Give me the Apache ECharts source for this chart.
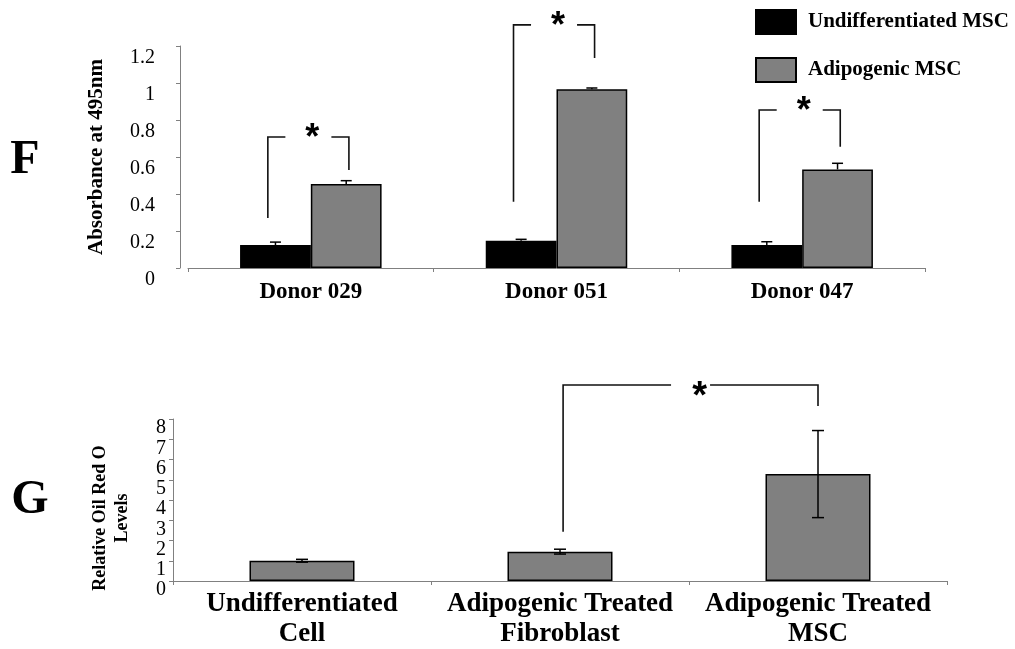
<!DOCTYPE html>
<html>
<head>
<meta charset="utf-8">
<script src="https://cdn.jsdelivr.net/npm/echarts@6/dist/echarts.min.js"></script>
<style>
  html, body { margin: 0; padding: 0; background: #fff; }
  #chart { width: 1015px; height: 649px; }
</style>
</head>
<body>
<div id="chart"></div>
<script>
// Panel F: absorbance per donor
const donors = ['Donor 029', 'Donor 051', 'Donor 047'];
const undiffMSC = [0.124, 0.147, 0.125];
const undiffErr = [0.016, 0.008, 0.017];
const adipoMSC = [0.454, 0.966, 0.533];
const adipoErr = [0.018, 0.007, 0.033];
// [fromCategory, toCategory, bracketTop, leftFoot, rightFoot]
const bracketsF = [
  [0, 0, 0.708, 0.27, 0.53],
  [1, 1, 1.314, 0.358, 1.135],
  [2, 2, 0.854, 0.358, 0.656]
];
const yTicksF = { min: 0, max: 1.2, interval: 0.2 };

// Panel G: relative Oil Red O levels
const groupsG = ['Undifferentiated\nCell', 'Adipogenic Treated\nFibroblast', 'Adipogenic Treated\nMSC'];
const oilRedO = [1.0, 1.45, 5.28];
const oilRedOErr = [0.07, 0.12, 2.15];
const bracketsG = [[1, 2, 9.68, 2.43, 8.64]];
const yTicksG = { min: 0, max: 8, interval: 1 };

const SERIF = "'Liberation Serif', 'Times New Roman', serif";
const AXIS_GRAY = '#808080';
const BAR_GRAY = '#808080';
const F_BAR_FRAC = 0.288;   // bar width as a share of the category band
const G_BAR_FRAC = 0.407;

// Error bar drawer: whisker above the bar (and below when `both`)
function errorBars(offsetFrac, barFrac, capW, both) {
  return function (params, api) {
    const c = api.value(0), v = api.value(1), e = api.value(2);
    const band = api.size([1, 0])[0];
    const x = api.coord([c, v])[0] + offsetFrac * band * barFrac;
    const yTop = api.coord([c, v + e])[1];
    const yVal = api.coord([c, v])[1];
    const yBot = both ? api.coord([c, v - e])[1] : yVal;
    const style = { stroke: '#000', lineWidth: 1.5 };
    const children = [
      { type: 'line', shape: { x1: x, y1: yTop, x2: x, y2: yBot }, style },
      { type: 'line', shape: { x1: x - capW / 2, y1: yTop, x2: x + capW / 2, y2: yTop }, style }
    ];
    if (both) {
      children.push({ type: 'line', shape: { x1: x - capW / 2, y1: yBot, x2: x + capW / 2, y2: yBot }, style });
    }
    return { type: 'group', children };
  };
}

// Significance bracket with a star in the gap of its top line
function brackets(leftFrac, rightFrac, gap, starDx, starDy, starSize) {
  return function (params, api) {
    const from = api.value(0), to = api.value(1);
    const top = api.value(2), lf = api.value(3), rf = api.value(4);
    const band = api.size([1, 0])[0];
    const xL = api.coord([from, top])[0] + leftFrac * band;
    const xR = api.coord([to, top])[0] + rightFrac * band;
    const yT = api.coord([from, top])[1];
    const yL = api.coord([from, lf])[1];
    const yR = api.coord([to, rf])[1];
    const mid = (xL + xR) / 2;
    const style = { stroke: '#111', lineWidth: 1.6, fill: null };
    return {
      type: 'group',
      children: [
        { type: 'polyline', shape: { points: [[xL, yL], [xL, yT], [mid - gap / 2, yT]] }, style },
        { type: 'polyline', shape: { points: [[mid + gap / 2, yT], [xR, yT], [xR, yR]] }, style },
        {
          type: 'text',
          x: mid + starDx, y: yT + starDy,
          style: {
            text: '*', fill: '#000',
            font: 'bold ' + starSize + "px 'Liberation Sans', Arial, sans-serif",
            align: 'center', verticalAlign: 'middle'
          }
        }
      ]
    };
  };
}

const chart = echarts.init(document.getElementById('chart'));

chart.setOption({
  animation: false,
  backgroundColor: '#fff',
  legend: {
    data: ['Undifferentiated MSC', 'Adipogenic MSC'],
    orient: 'vertical',
    left: 755, top: 9, padding: 0,
    itemWidth: 40, itemHeight: 24, itemGap: 22,
    icon: 'rect',
    textStyle: { fontFamily: SERIF, fontWeight: 'bold', fontSize: 21, color: '#000', padding: [0, 0, 0, 7] }
  },
  graphic: [
    { type: 'text', x: 25, y: 161, style: { text: 'F', font: 'bold 48px ' + SERIF, fill: '#000', align: 'center', verticalAlign: 'middle' } },
    { type: 'text', x: 30, y: 501, style: { text: 'G', font: 'bold 48px ' + SERIF, fill: '#000', align: 'center', verticalAlign: 'middle' } },
    { type: 'text', x: 97, y: 157, rotation: Math.PI / 2,
      style: { text: 'Absorbance at 495nm', font: 'bold 21px ' + SERIF, fill: '#000', align: 'center', verticalAlign: 'middle' } },
    { type: 'text', x: 111, y: 518, rotation: Math.PI / 2,
      style: { text: 'Relative Oil Red O\nLevels', font: 'bold 18px ' + SERIF, lineHeight: 22, fill: '#000', align: 'center', verticalAlign: 'middle' } }
  ],
  grid: [
    { left: 188, right: 90, top: 46, bottom: 381 },
    { left: 173, right: 68, top: 419, bottom: 68 }
  ],
  xAxis: [
    {
      type: 'category', gridIndex: 0, data: donors,
      axisLine: { lineStyle: { color: AXIS_GRAY, width: 1 } },
      axisTick: { show: true, length: 4, lineStyle: { color: AXIS_GRAY } },
      axisLabel: { interval: 0, fontFamily: SERIF, fontWeight: 'bold', fontSize: 23, color: '#000', margin: 13 },
      splitLine: { show: false }
    },
    {
      type: 'category', gridIndex: 1, data: groupsG,
      axisLine: { lineStyle: { color: AXIS_GRAY, width: 1 } },
      axisTick: { show: true, length: 4, lineStyle: { color: AXIS_GRAY } },
      axisLabel: { interval: 0, hideOverlap: false, fontFamily: SERIF, fontWeight: 'bold', fontSize: 27, lineHeight: 30, color: '#000', margin: 8 },
      splitLine: { show: false }
    }
  ],
  yAxis: [
    {
      type: 'value', gridIndex: 0, min: yTicksF.min, max: yTicksF.max, interval: yTicksF.interval,
      offset: 8,
      axisLine: { show: true, lineStyle: { color: AXIS_GRAY, width: 1 } },
      axisTick: { show: true, length: 4, lineStyle: { color: AXIS_GRAY } },
      axisLabel: { fontFamily: SERIF, fontSize: 20, color: '#000', margin: 25, verticalAlign: 'top', lineHeight: 24 },
      splitLine: { show: false }
    },
    {
      type: 'value', gridIndex: 1, min: yTicksG.min, max: yTicksG.max, interval: yTicksG.interval,
      axisLine: { show: true, lineStyle: { color: AXIS_GRAY, width: 1 } },
      axisTick: { show: true, length: 4, lineStyle: { color: AXIS_GRAY } },
      axisLabel: { fontFamily: SERIF, fontSize: 20, color: '#000', margin: 7, verticalAlign: 'top', lineHeight: 18 },
      splitLine: { show: false }
    }
  ],
  series: [
    {
      name: 'Undifferentiated MSC', type: 'bar', xAxisIndex: 0, yAxisIndex: 0,
      data: undiffMSC, barWidth: (F_BAR_FRAC * 100) + '%', barGap: '0%',
      itemStyle: { color: '#000', borderColor: '#000', borderWidth: 1.5 }
    },
    {
      name: 'Adipogenic MSC', type: 'bar', xAxisIndex: 0, yAxisIndex: 0,
      data: adipoMSC, barWidth: (F_BAR_FRAC * 100) + '%', barGap: '0%',
      itemStyle: { color: BAR_GRAY, borderColor: '#000', borderWidth: 1.5 }
    },
    {
      type: 'custom', xAxisIndex: 0, yAxisIndex: 0, z: 5, clip: false,
      renderItem: errorBars(-0.5, F_BAR_FRAC, 11, false),
      data: undiffMSC.map((v, i) => [i, v, undiffErr[i]])
    },
    {
      type: 'custom', xAxisIndex: 0, yAxisIndex: 0, z: 5, clip: false,
      renderItem: errorBars(0.5, F_BAR_FRAC, 11, false),
      data: adipoMSC.map((v, i) => [i, v, adipoErr[i]])
    },
    {
      type: 'custom', xAxisIndex: 0, yAxisIndex: 0, z: 6, clip: false,
      renderItem: brackets(-0.175, 0.155, 46, 4, 2, 36),
      data: bracketsF
    },
    {
      name: 'Oil Red O', type: 'bar', xAxisIndex: 1, yAxisIndex: 1,
      data: oilRedO, barWidth: (G_BAR_FRAC * 100) + '%',
      itemStyle: { color: BAR_GRAY, borderColor: '#000', borderWidth: 1.5 }
    },
    {
      type: 'custom', xAxisIndex: 1, yAxisIndex: 1, z: 5, clip: false,
      renderItem: errorBars(0, G_BAR_FRAC, 12, true),
      data: oilRedO.map((v, i) => [i, v, oilRedOErr[i]])
    },
    {
      type: 'custom', xAxisIndex: 1, yAxisIndex: 1, z: 6, clip: false,
      renderItem: brackets(0.012, 0, 39, 9, 13, 38),
      data: bracketsG
    }
  ]
});
</script>
</body>
</html>
